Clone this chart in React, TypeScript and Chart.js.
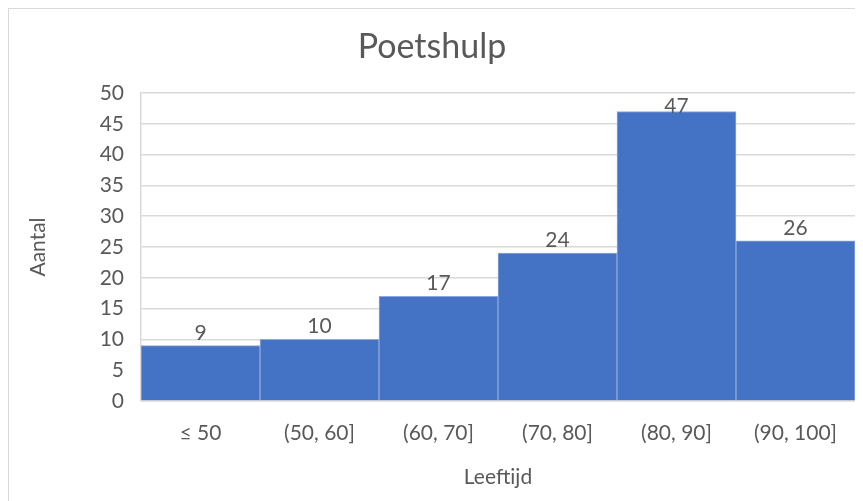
import React, { useEffect, useRef } from "react";
import { Chart, registerables } from "chart.js";

Chart.register(...registerables);

const categories = ["≤ 50", "(50, 60]", "(60, 70]", "(70, 80]", "(80, 90]", "(90, 100]"];
const counts = [9, 10, 17, 24, 47, 26];
const titleText = "Poetshulp";
const xTitle = "Leeftijd";
const yTitle = "Aantal";

const FONT = "Lato, 'Open Sans', sans-serif";
const TEXT = "#595959";
const GRID = "#d9d9d9";

const labelPlugin = {
  id: "barLabels",
  afterDatasetsDraw(chart: any) {
    const { ctx, chartArea } = chart;
    const meta = chart.getDatasetMeta(0);
    ctx.save();
    ctx.font = `21px ${FONT}`;
    ctx.fillStyle = TEXT;
    ctx.textAlign = "center";
    ctx.textBaseline = "alphabetic";
    meta.data.forEach((el: any, i: number) => {
      const y = Math.max(el.y - 6, chartArea.top + 20);
      ctx.fillText(String(counts[i]), el.x, y);
    });
    ctx.restore();
  },
};

export default function App() {
  const ref = useRef<HTMLCanvasElement>(null);
  useEffect(() => {
    if (!ref.current) return;
    const chart = new Chart(ref.current, {
      type: "bar",
      data: {
        labels: categories,
        datasets: [
          {
            data: counts,
            backgroundColor: "#4472C4",
            borderColor: "#8EA9DB",
            borderWidth: 1,
            barPercentage: 1,
            categoryPercentage: 1,
          },
        ],
      },
      options: {
        animation: false,
        responsive: false,
        layout: { padding: { left: 0, right: 8, top: 0, bottom: 0 } },
        plugins: {
          legend: { display: false },
          tooltip: { enabled: false },
          title: {
            display: true,
            text: titleText,
            color: TEXT,
            font: { family: FONT, size: 34, weight: "normal" },
            padding: { top: 18, bottom: 25.2 },
          },
        },
        scales: {
          x: {
            grid: { display: false, drawTicks: false },
            border: { display: true, color: GRID, width: 1.5 },
            ticks: { color: TEXT, font: { family: FONT, size: 21 }, padding: 20, maxRotation: 0 },
            title: {
              display: true,
              text: xTitle,
              color: TEXT,
              font: { family: FONT, size: 21 },
              padding: { top: 0, bottom: 11 },
            },
            afterFit(scale: any) {
              scale.height = 100;
            },
          },
          y: {
            min: 0,
            max: 50,
            ticks: { stepSize: 5, color: TEXT, font: { family: FONT, size: 21 }, padding: 17 },
            grid: { color: GRID, lineWidth: 1.5, drawTicks: false },
            border: { display: true, color: GRID, width: 1.5 },
            title: {
              display: true,
              text: yTitle,
              color: TEXT,
              font: { family: FONT, size: 21 },
              padding: { top: 17, bottom: 0 },
            },
            afterFit(scale: any) {
              scale.width = 132;
            },
          },
        },
      },
      plugins: [labelPlugin],
    });
    return () => chart.destroy();
  }, []);
  return (
    <div
      style={{
        width: 855,
        height: 493,
        borderLeft: "1px solid #d9d9d9",
        borderTop: "1px solid #d9d9d9",
        boxSizing: "border-box",
        background: "#fff",
      }}
    >
      <canvas ref={ref} width={854} height={492} style={{ display: "block" }} />
    </div>
  );
}
